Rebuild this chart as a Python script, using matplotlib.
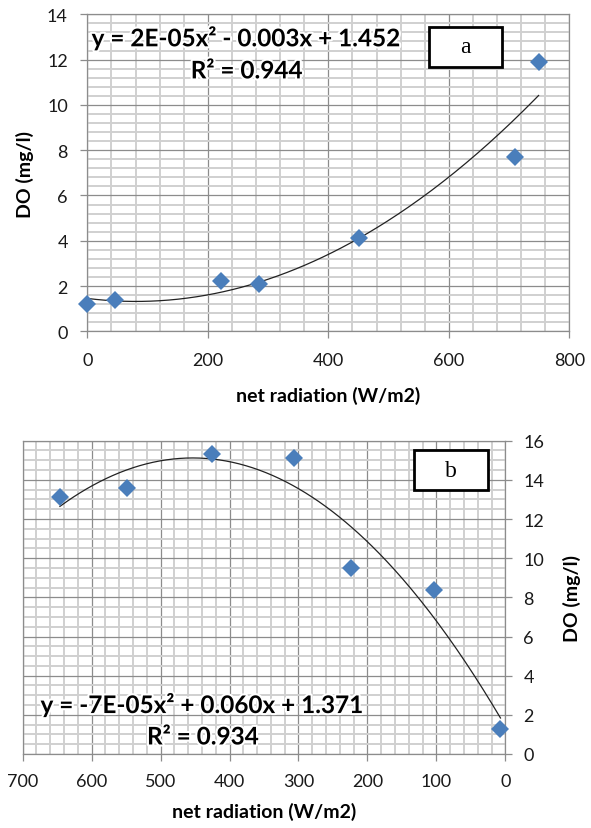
import numpy as np
import matplotlib
matplotlib.use("Agg")
import matplotlib.pyplot as plt
import matplotlib.patheffects as PathEffects
from matplotlib.patches import Rectangle
from matplotlib.ticker import MultipleLocator

plt.rcParams['font.family'] = ['Lato', 'DejaVu Sans']

# panel a: DO vs net radiation
rad_a = [0, 46, 222, 285, 451, 710, 749]
do_a = [1.2, 1.4, 2.2, 2.1, 4.1, 7.7, 11.9]
eq_a = "y = 2E-05x\u00b2 - 0.003x + 1.452"
r2_a = "R\u00b2 = 0.944"

# panel b: DO vs net radiation (reversed axis)
rad_b = [646, 549, 425, 307, 224, 103, 7]
do_b = [13.1, 13.6, 15.3, 15.1, 9.5, 8.4, 1.3]
eq_b = "y = -7E-05x\u00b2 + 0.060x + 1.371"
r2_b = "R\u00b2 = 0.934"

W, H = 591, 829
fig = plt.figure(figsize=(W / 100, H / 100), dpi=100)

major_c = '#8c8c8c'
minor_c = '#d0d0d0'
blue = '#4a7ebb'
tick_c = '#1a1a1a'


def px_rect(x0, y0, x1, y1):
    # pixel box (top-left origin) -> figure fraction
    return [x0 / W, 1 - y1 / H, (x1 - x0) / W, (y1 - y0) / H]


def style_axes(ax, xmaj, xmin, ymaj, ymin):
    ax.xaxis.set_major_locator(MultipleLocator(xmaj))
    ax.xaxis.set_minor_locator(MultipleLocator(xmin))
    ax.yaxis.set_major_locator(MultipleLocator(ymaj))
    ax.yaxis.set_minor_locator(MultipleLocator(ymin))
    ax.grid(which='minor', color=minor_c, lw=1.4, zorder=0)
    ax.grid(which='major', color=major_c, lw=0.9, zorder=1)
    ax.set_axisbelow(True)
    for s in ax.spines.values():
        s.set_color(major_c)
        s.set_linewidth(0.9)
    ax.tick_params(which='minor', length=0)
    ax.tick_params(which='major', length=5, width=0.9, color=major_c,
                   labelsize=13, labelcolor=tick_c, direction='out')


def trend(ax, x, y):
    coef = np.polyfit(x, y, 2)
    xs = np.linspace(min(x), max(x), 200)
    ax.plot(xs, np.polyval(coef, xs), color='#222222', lw=0.9, zorder=3)


halo = [PathEffects.withStroke(linewidth=3, foreground='white')]
eq_fs = 17.5
lab_fs = 14

# ---- panel a ----
ax1 = fig.add_axes(px_rect(87.3, 15.3, 569.3, 332.3))
ax1.set_xlim(0, 800)
ax1.set_ylim(0, 14)
style_axes(ax1, 200, 40, 2, 0.4)
ax1.tick_params(axis='x', pad=10)
ax1.tick_params(axis='y', pad=9)
trend(ax1, rad_a, do_a)
ax1.plot(rad_a, do_a, ls='none', marker='D', ms=9, color=blue, mew=0,
         zorder=4, clip_on=False)
ax1.text(262, 12.94, eq_a, ha='center', va='center', fontsize=eq_fs,
         fontweight='bold', path_effects=halo, zorder=5)
ax1.text(264, 11.5, r2_a, ha='center', va='center', fontsize=eq_fs,
         fontweight='bold', path_effects=halo, zorder=5)
ax1.add_patch(Rectangle((0.709, 0.833), 0.152, 0.128, transform=ax1.transAxes,
                        facecolor='white', edgecolor='black', lw=2, zorder=6))
ax1.text(0.785, 0.897, 'a', transform=ax1.transAxes, ha='center', va='center',
         fontsize=17, family='Liberation Serif', zorder=7)
fig.text(328 / W, 1 - 396 / H, 'net radiation (W/m2)', ha='center', va='center',
         fontsize=lab_fs, fontweight='bold')
fig.text(25 / W, 1 - 174 / H, 'DO (mg/l)', ha='center', va='center',
         rotation=90, fontsize=lab_fs, fontweight='bold')

# ---- panel b ----
ax2 = fig.add_axes(px_rect(22.7, 441.7, 505.3, 755))
ax2.set_xlim(700, 0)
ax2.set_ylim(0, 16)
style_axes(ax2, 100, 20, 2, 0.5)
ax2.yaxis.tick_right()
ax2.tick_params(axis='x', pad=9)
ax2.tick_params(axis='y', pad=8)
trend(ax2, rad_b, do_b)
ax2.plot(rad_b, do_b, ls='none', marker='D', ms=9, color=blue, mew=0,
         zorder=4, clip_on=False)
ax2.text(441, 2.5, eq_b, ha='center', va='center', fontsize=eq_fs,
         fontweight='bold', path_effects=halo, zorder=5)
ax2.text(439, 0.87, r2_b, ha='center', va='center', fontsize=eq_fs,
         fontweight='bold', path_effects=halo, zorder=5)
ax2.add_patch(Rectangle((0.8115, 0.8426), 0.1533, 0.1274, transform=ax2.transAxes,
                        facecolor='white', edgecolor='black', lw=2, zorder=6))
ax2.text(0.888, 0.906, 'b', transform=ax2.transAxes, ha='center', va='center',
         fontsize=17, family='Liberation Serif', zorder=7)
fig.text(264 / W, 1 - 812 / H, 'net radiation (W/m2)', ha='center', va='center',
         fontsize=lab_fs, fontweight='bold')
fig.text(571.7 / W, 1 - 598 / H, 'DO (mg/l)', ha='center', va='center',
         rotation=90, fontsize=lab_fs, fontweight='bold')

fig.savefig('out.png', dpi=100, facecolor='white')
